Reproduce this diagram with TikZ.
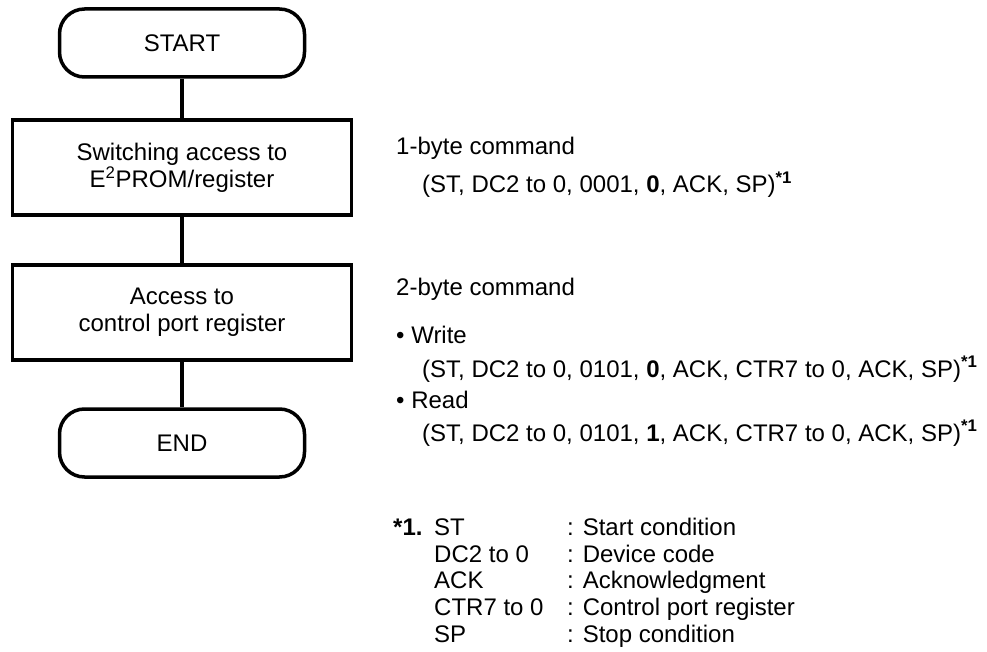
\documentclass[tikz,border=0pt]{standalone}
\usepackage{fontspec}
\setmainfont{Liberation Sans}
\begin{document}
\begin{tikzpicture}[x=1pt,y=-1pt,
  every node/.style={font=\fontsize{24}{27}\selectfont},
  lw/.style={line width=3.5pt},
  term/.style={lw,draw,rounded corners=25pt,minimum width=245pt,minimum height=68pt,inner sep=0pt},
  proc/.style={lw,draw,minimum width=339pt,minimum height=95pt,align=center,inner sep=0pt},
  conn/.style={lw},
  txt/.style={anchor=base west,inner sep=0pt}
]
\useasboundingbox (0,0) rectangle (987,652);
\node[term] (start) at (182,43) {START};
\node[proc] (sw) at (182,167.5) {Switching access to\\E\textsuperscript{2}PROM/register};
\node[proc] (acc) at (182,312.5) {Access to\\control port register};
\node[term] (end) at (182,443) {END};
\draw[conn] (start) -- (sw);
\draw[conn] (sw) -- (acc);
\draw[conn] (acc) -- (end);

\node[txt] (t1) at (396,155) {1-byte command};
\node[txt] (t2) at (422,193) {(ST, DC2 to 0, 0001, \textbf{0}, ACK, SP)\textsuperscript{\textbf{*1}}};
\node[txt] (t3) at (396,295) {2-byte command};
\node[txt] (t4) at (396,343) {• Write};
\node[txt] (t5) at (422,377) {(ST, DC2 to 0, 0101, \textbf{0}, ACK, CTR7 to 0, ACK, SP)\textsuperscript{\textbf{*1}}};
\node[txt] (t6) at (396,408) {• Read};
\node[txt] (t7) at (422,441) {(ST, DC2 to 0, 0101, \textbf{1}, ACK, CTR7 to 0, ACK, SP)\textsuperscript{\textbf{*1}}};

\node[txt] (fn) at (393,535) {\textbf{*1.}};
\node[txt] (k1) at (434,535) {ST};
\node[txt] (k2) at (434,562) {DC2 to 0};
\node[txt] (k3) at (434,588) {ACK};
\node[txt] (k4) at (434,615) {CTR7 to 0};
\node[txt] (k5) at (434,642) {SP};
\node[txt] (v1) at (567,535) {: Start condition};
\node[txt] (v2) at (567,562) {: Device code};
\node[txt] (v3) at (567,588) {: Acknowledgment};
\node[txt] (v4) at (567,615) {: Control port register};
\node[txt] (v5) at (567,642) {: Stop condition};
\end{tikzpicture}
\end{document}
